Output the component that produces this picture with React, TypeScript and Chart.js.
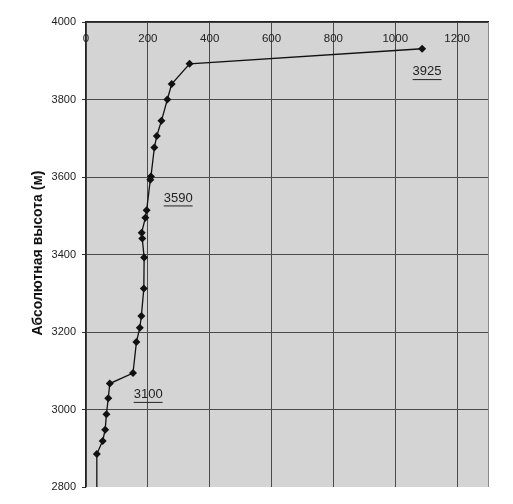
import { useEffect, useRef } from "react";
import { Chart, registerables } from "chart.js";

Chart.register(...registerables);

// values (x = value, y = absolute height, m)
const xValues = [1087, 335, 277, 263, 244, 229, 221, 210, 208, 196, 192, 180, 182, 188, 187, 179, 174, 163, 152, 77, 72, 66, 62, 54, 35, 35];
const yValues = [3931, 3892, 3840, 3800, 3745, 3706, 3676, 3601, 3593, 3514, 3495, 3456, 3441, 3392, 3312, 3241, 3211, 3174, 3094, 3067, 3029, 2988, 2948, 2919, 2885, 2790];
// last point is only the line running out of the plot, no marker
const markerRadius = xValues.map((_, i) => (i === xValues.length - 1 ? 0 : 4));

// x grid: labelled ticks plus the unlabelled right edge
const xTickLabels = [0, 200, 400, 600, 800, 1000, 1200];
const xMax = 1300;

const noteLabels = ["3925", "3590", "3100"];
const noteX = [1103, 298, 201];
const noteY = [3872, 3546, 3039];

const yTitle = "Абсолютная высота (м)";

const FONT = "'Liberation Sans', Arial, sans-serif";

const plotBackground = {
  id: "plotBackground",
  beforeDraw(chart: Chart) {
    const { ctx, chartArea } = chart;
    ctx.save();
    ctx.fillStyle = "#d4d4d4";
    ctx.fillRect(chartArea.left, chartArea.top, chartArea.right - chartArea.left, chartArea.bottom - chartArea.top);
    ctx.restore();
  },
};

// x tick labels sit inside the plot, just under the top edge
const insideXLabels = {
  id: "insideXLabels",
  afterDraw(chart: Chart) {
    const { ctx, chartArea } = chart;
    const xs = chart.scales.x;
    ctx.save();
    ctx.font = `11.5px ${FONT}`;
    ctx.fillStyle = "#222";
    ctx.textAlign = "center";
    ctx.textBaseline = "middle";
    xTickLabels.forEach((v) => {
      ctx.fillText(String(v), xs.getPixelForValue(v), chartArea.top + 17);
    });
    ctx.restore();
  },
};

const notesAndTitle = {
  id: "notesAndTitle",
  afterDatasetsDraw(chart: Chart) {
    const { ctx } = chart;
    const xs = chart.scales.x;
    const ys = chart.scales.y;
    ctx.save();
    ctx.font = `13px ${FONT}`;
    ctx.fillStyle = "#222";
    ctx.strokeStyle = "#222";
    ctx.textAlign = "center";
    ctx.textBaseline = "middle";
    noteLabels.forEach((label, i) => {
      const px = xs.getPixelForValue(noteX[i]);
      const py = ys.getPixelForValue(noteY[i]);
      ctx.fillText(label, px, py);
      const w = ctx.measureText(label).width;
      ctx.lineWidth = 1;
      ctx.beginPath();
      ctx.moveTo(px - w / 2, py + 8);
      ctx.lineTo(px + w / 2, py + 8);
      ctx.stroke();
    });
    // axis title
    ctx.font = `bold 14px ${FONT}`;
    ctx.fillStyle = "#111";
    ctx.translate(38, 253);
    ctx.rotate(-Math.PI / 2);
    ctx.fillText(yTitle, 0, 0);
    ctx.restore();
  },
};

const App = () => {
  const canvasRef = useRef<HTMLCanvasElement>(null);
  const chartRef = useRef<Chart | null>(null);

  useEffect(() => {
    if (!canvasRef.current) return;
    if (chartRef.current) chartRef.current.destroy();

    chartRef.current = new Chart(canvasRef.current, {
      type: "scatter",
      data: {
        datasets: [
          {
            data: xValues.map((x, i) => ({ x, y: yValues[i] })),
            showLine: true,
            borderColor: "#111",
            borderWidth: 1.3,
            backgroundColor: "#111",
            pointStyle: "rectRot",
            pointRadius: markerRadius,
            pointBorderWidth: 0,
          },
        ],
      },
      options: {
        responsive: true,
        maintainAspectRatio: false,
        animation: false,
        layout: { padding: { left: 0, top: 22, right: 25, bottom: 17 } },
        plugins: {
          legend: { display: false },
          tooltip: { enabled: false },
        },
        scales: {
          x: {
            type: "linear",
            position: "top",
            min: 0,
            max: xMax,
            afterFit: (scale: any) => {
              scale.height = 0;
            },
            afterBuildTicks: (scale: any) => {
              scale.ticks = [...xTickLabels, xMax].map((value) => ({ value }));
            },
            ticks: { display: false },
            grid: {
              drawTicks: false,
              color: (c: any) => (c.tick && c.tick.value === xMax ? "#8a8a8a" : "#4a4a4a"),
            },
            border: { display: true, color: "#222", width: 1.2 },
          },
          y: {
            type: "linear",
            min: 2800,
            max: 4000,
            afterFit: (scale: any) => {
              scale.width = 86;
            },
            ticks: {
              stepSize: 200,
              padding: 6,
              color: "#222",
              font: { family: FONT, size: 11 },
              callback: (v: any) => String(v),
            },
            grid: {
              tickLength: 4,
              tickColor: "#333",
              color: (c: any) => (c.tick && c.tick.value === 2800 ? "rgba(0,0,0,0)" : "#4a4a4a"),
            },
            border: { display: true, color: "#222", width: 1.2 },
          },
        },
      },
      plugins: [plotBackground, insideXLabels, notesAndTitle],
    });

    return () => {
      if (chartRef.current) {
        chartRef.current.destroy();
        chartRef.current = null;
      }
    };
  }, []);

  return (
    <div style={{ position: "fixed", left: 0, top: 0, width: 513, height: 504, background: "#fff" }}>
      <canvas ref={canvasRef}></canvas>
    </div>
  );
};

export default App;
